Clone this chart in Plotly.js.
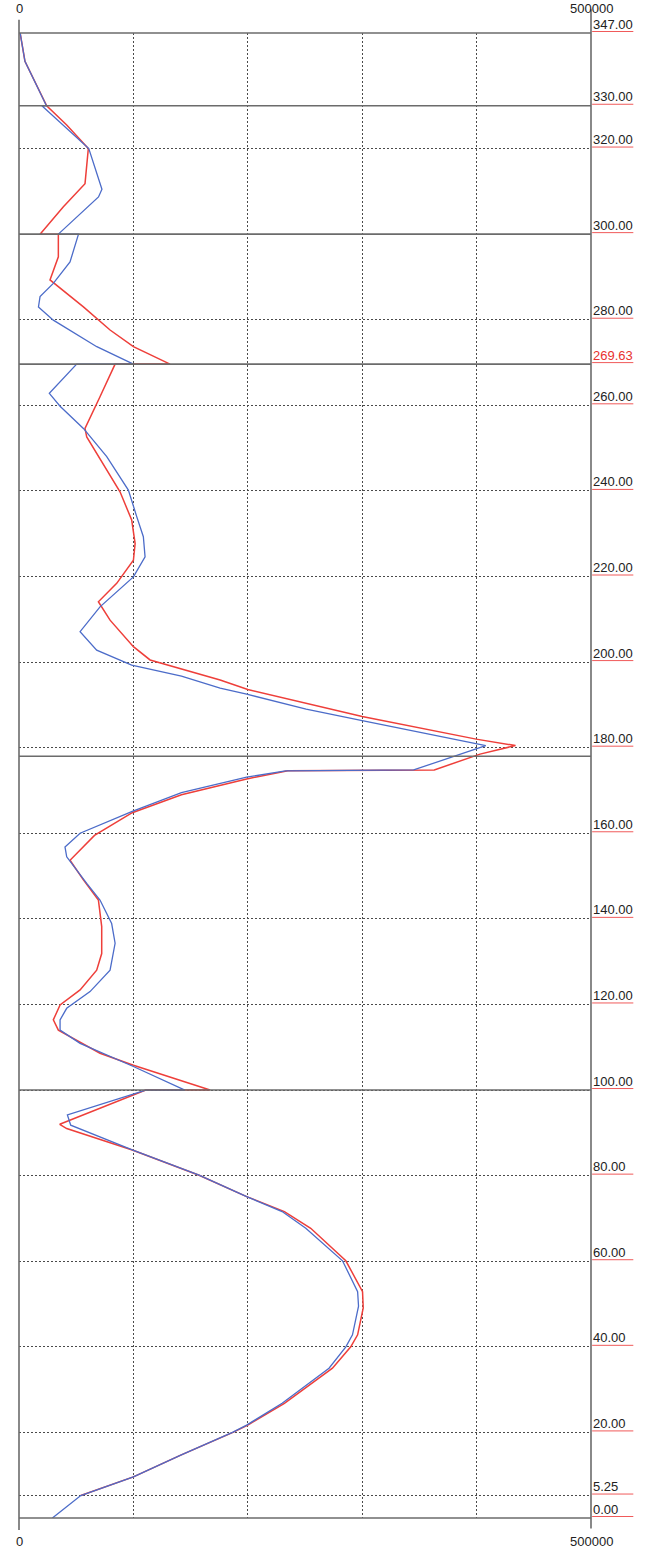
<!DOCTYPE html>
<html>
<head>
<meta charset="utf-8">
<script src="https://cdn.plot.ly/plotly-3.0.1.min.js"></script>
<style>
  html, body { margin: 0; padding: 0; background: #fff; }
  #chart { width: 650px; height: 1552px; }
</style>
</head>
<body>
<div id="chart"></div>
<script>
// Depth profile: two curves of value (0..500000) against depth (0..347).
const xMax = 500000;
const yMax = 347;

// Blue curve, listed from the top of the column downwards.
const blueDepth = [
  347, 340.4, 330, 330, 320, 310.5, 308.7, 300,
  300, 293.5, 288.5, 285.4, 283.0, 279.9, 273.7, 269.63,
  269.63, 262.8, 259.8, 254.6, 248.0, 240.2, 234.0, 229.3, 224.6, 219.9, 212.9, 207.1, 202.8, 199.3, 196.7, 193.9, 192.5, 189, 186.3, 181.1, 180.5,
  174.8, 174.6, 173.1, 169.5, 165.1, 160.0, 156.8, 154.5, 148.3, 144.4, 138.9, 134.3, 128.0, 123.0, 119.1, 116.4, 114.0, 110.9, 105.5, 100,
  100, 94.2, 91.8, 86.0, 80.1, 75.1, 71.6, 67.7, 60.1, 52.9, 49.5, 42.8, 40.0, 35.0, 26.8, 21.7, 20, 14.7, 9.6, 5.25, 0
];
const blueValue = [
  1000, 5200, 24000, 20000, 61000, 72500, 69500, 34400,
  52000, 44600, 30000, 18400, 17000, 30000, 68000, 100000,
  50400, 26500, 35900, 56300, 76700, 95600, 102900, 108700, 110200, 100000, 70800, 53400, 67900, 98500, 142000, 175800, 199000, 251000, 300000, 399600, 408000,
  345000, 233000, 199000, 142000, 99000, 53400, 40200, 41700, 59200, 70800, 81000, 84000, 79600, 62100, 41700, 35900, 35900, 53400, 100000, 145000,
  110800, 42300, 45200, 99000, 157400, 199000, 230000, 250700, 282800, 296000, 296800, 291500, 285700, 271000, 230000, 199000, 186600, 141400, 100000, 54000, 29200
];

// Red curve, listed from the top of the column downwards.
const redDepth = [
  347, 340.4, 330, 325.5, 320, 316.1, 311.8, 306.4, 300,
  300, 294.7, 289.3, 283.0, 277.6, 273.7, 269.63,
  269.63, 262.0, 254.6, 252.6, 244.9, 239.8, 233.2, 227.7, 223.8, 218.4, 214.1, 209.8, 203.6, 200.5, 195.8, 193.6, 187.3, 182, 180.5, 178.5,
  174.8, 174.6, 172.7, 169.0, 164.8, 159.5, 153.7, 149.1, 144.4, 138.2, 131.9, 128.0, 123.4, 119.9, 116.4, 114.0, 108.6, 105.8, 100,
  100, 92.0, 91.0, 86.0, 80.1, 75.1, 71.6, 67.7, 60.1, 52.9, 49.1, 42.8, 40.0, 35.0, 26.8, 21.7, 20, 14.7, 9.6, 5.25
];
const redValue = [
  1000, 5200, 24200, 41700, 60600, 59200, 57700, 38800, 18400,
  34400, 34400, 27100, 56300, 79600, 100000, 132000,
  84000, 70800, 57700, 59200, 76700, 88300, 98500, 101500, 100000, 85400, 69400, 79600, 100000, 114600, 175800, 200000, 300000, 399600, 434000, 403000,
  363000, 235000, 199000, 142000, 99000, 66000, 44600, 56300, 69400, 72300, 72300, 67900, 53400, 35900, 30000, 34400, 70800, 100000, 167000,
  110800, 35600, 41700, 99000, 157400, 199000, 232000, 255000, 285700, 300300, 300900, 296000, 290000, 274000, 232000, 200000, 187000, 141400, 100000, 54000
];

// Depth labels on the right-hand side; the highlighted one is drawn in red.
const depthLabels = [347, 330, 320, 300, 280, 269.63, 260, 240, 220, 200, 180, 160, 140, 120, 100, 80, 60, 40, 20, 5.25, 0];
const highlightedLabel = 269.63;
// Dotted horizontal grid levels.
const gridDepths = [330, 320, 300, 280, 260, 240, 220, 200, 180, 160, 140, 120, 100, 80, 60, 40, 20, 5.25];
// Solid layer boundaries inside the column.
const boundaryDepths = [330, 300, 269.63, 178, 100];
// Value grid and value labels.
const valueGrid = [100000, 200000, 300000, 400000];
const valueLabels = [0, 500000];

const FONT = '"Liberation Sans", Arial, Helvetica, sans-serif';
const frameColor = '#6b6b6b';

const traces = [
  {
    x: redValue, y: redDepth, type: 'scatter', mode: 'lines',
    line: { color: '#ee3f3a', width: 1.5 }, hoverinfo: 'skip', showlegend: false
  },
  {
    x: blueValue, y: blueDepth, type: 'scatter', mode: 'lines',
    line: { color: '#4c6cc9', width: 1.3 }, hoverinfo: 'skip', showlegend: false
  }
];

const shapes = [];
// Outer frame: top and bottom edges, and the two side lines that run past the plot.
shapes.push({ type: 'line', xref: 'paper', yref: 'paper', x0: 0, x1: 1, y0: 1, y1: 1, line: { color: frameColor, width: 1.6 } });
shapes.push({ type: 'line', xref: 'paper', yref: 'paper', x0: 0, x1: 1, y0: 0, y1: 0, line: { color: frameColor, width: 1.6 } });
shapes.push({ type: 'line', xref: 'paper', yref: 'paper', x0: 0, x1: 0, y0: -0.008, y1: 1.009, line: { color: frameColor, width: 1.6 } });
shapes.push({ type: 'line', xref: 'paper', yref: 'paper', x0: 1, x1: 1, y0: -0.007, y1: 1.016, line: { color: frameColor, width: 1.6 } });
// Layer boundaries.
boundaryDepths.forEach(d => {
  shapes.push({ type: 'line', xref: 'paper', yref: 'y', x0: 0, x1: 1, y0: d, y1: d, line: { color: frameColor, width: 1.6 } });
});
// Red underline beneath every depth label.
depthLabels.forEach(d => {
  shapes.push({
    type: 'line', xref: 'paper', yref: 'paper', ysizemode: 'pixel', yanchor: d / yMax,
    x0: 1.002, x1: 1.074, y0: 1.5, y1: 1.5,
    line: { color: '#f05a5a', width: 1 }
  });
});

const annotations = [];
depthLabels.forEach(d => {
  annotations.push({
    xref: 'paper', yref: 'y', x: 1, y: d, xanchor: 'left', yanchor: 'middle',
    xshift: 0, yshift: 9, showarrow: false,
    text: d.toFixed(2),
    font: { family: FONT, size: 13, color: d === highlightedLabel ? '#e8322e' : '#222' }
  });
});
valueLabels.forEach(v => {
  annotations.push({
    xref: 'x', yref: 'paper', x: v, y: 1, xanchor: 'center', yanchor: 'bottom',
    yshift: 15, showarrow: false, text: String(v),
    font: { family: FONT, size: 13, color: '#222' }
  });
  annotations.push({
    xref: 'x', yref: 'paper', x: v, y: 0, xanchor: 'center', yanchor: 'top',
    yshift: -14, showarrow: false, text: String(v),
    font: { family: FONT, size: 13, color: '#222' }
  });
});

const layout = {
  width: 650, height: 1552, autosize: false,
  margin: { l: 19, r: 59, t: 33, b: 34, pad: 0 },
  paper_bgcolor: '#fff', plot_bgcolor: '#fff',
  showlegend: false,
  font: { family: FONT, size: 13, color: '#222' },
  xaxis: {
    range: [0, xMax], tickvals: valueGrid, showticklabels: false, ticks: '',
    showgrid: true, gridcolor: '#4a4a4a', gridwidth: 1, griddash: '2px,2px',
    zeroline: false, showline: false, fixedrange: true
  },
  yaxis: {
    range: [0, yMax], tickvals: gridDepths, showticklabels: false, ticks: '',
    showgrid: true, gridcolor: '#4a4a4a', gridwidth: 1, griddash: '2px,2px',
    zeroline: false, showline: false, fixedrange: true
  },
  shapes: shapes,
  annotations: annotations
};

Plotly.newPlot('chart', traces, layout, { staticPlot: true, displayModeBar: false });
</script>
</body>
</html>
